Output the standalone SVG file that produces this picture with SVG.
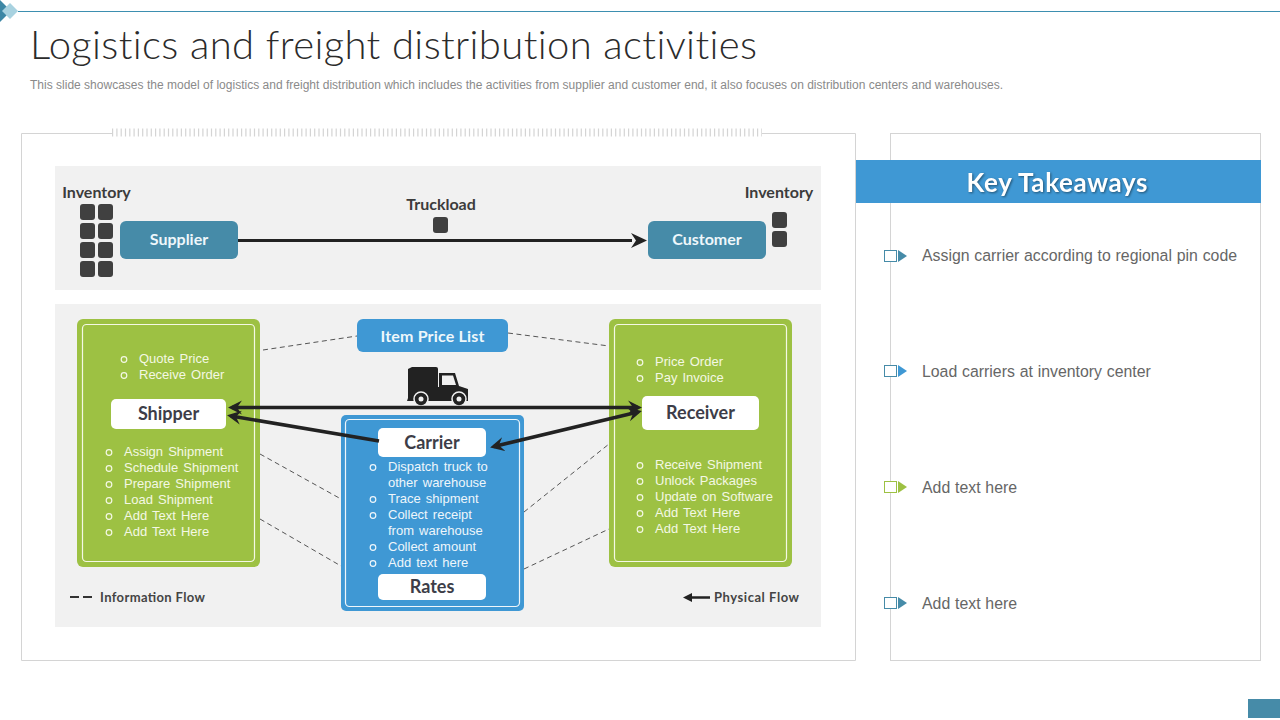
<svg xmlns="http://www.w3.org/2000/svg" width="1280" height="720" viewBox="0 0 1280 720">
<style>
.b{font-family:"Liberation Sans",Arial,sans-serif;font-size:13px;fill:#f4f8e4;word-spacing:1.5px}
.bb{fill:#eef6fb}
.o{fill:none;stroke:#f4f8e4;stroke-width:1.2}
.oo{stroke:#eef6fb}
.h{font-family:"Lato","Open Sans",sans-serif;font-weight:700}
.k{font-size:16px;fill:#3c3c3c;text-anchor:middle}
.w{font-size:16px;fill:#eef7fb;text-anchor:middle}
.n{font-size:18px;fill:#3d3d48;text-anchor:middle}
.t{font-family:"Liberation Sans",Arial,sans-serif;font-size:15.850px;fill:#666;word-spacing:.4px}
.s{fill:#404040}
.d{fill:none;stroke:#555;stroke-width:1;stroke-dasharray:5 3.5}
.a{fill:none;stroke:#222;stroke-width:3.5}
.f{fill:#fff;stroke:none}
</style>
<defs>
<marker id="ah" markerUnits="userSpaceOnUse" markerWidth="16" markerHeight="16" refX="10" refY="8" orient="auto-start-reverse" viewBox="0 0 16 16"><path d="M14 8 L0 1 L5 8 L0 15Z" fill="#222"/></marker>
</defs>
<rect width="1280" height="720" fill="#fff"/>
<g id="header">
<line x1="18" y1="11.500" x2="1280" y2="11.500" stroke="#3d8fb0" stroke-width="1"/>
<path d="M0 0 L11 11 L0 22Z" fill="#3d87a5"/>
<path d="M10 3 L18 11 L10 19 L2 11Z" fill="#a8d2e0"/>
<text x="30" y="59" font-family="Lato,'Open Sans',sans-serif" font-weight="300" font-size="40" fill="#2b2b2b" textLength="727" lengthAdjust="spacing" style="font-variant-ligatures:none">Logistics and freight distribution activities</text>
<text x="30" y="89" font-family="'Liberation Sans',Arial,sans-serif" font-size="12" fill="#8a8a8a" textLength="973" lengthAdjust="spacing">This slide showcases the model of logistics and freight distribution which includes the activities from supplier and customer end, it also focuses on distribution centers and warehouses.</text>
</g>
<g id="frames" fill="none" stroke="#d4d4d4" stroke-width="1">
<path d="M112 133.500H21.500V660.500H855.500V133.500H762"/>
<line x1="112" y1="132.500" x2="762" y2="132.500" stroke-width="8" stroke-dasharray="1.200 3.100"/>
<rect x="890.500" y="133.500" width="370" height="527"/>
</g>
<rect x="55" y="166" width="766" height="124" fill="#f1f1f1"/>
<rect x="55" y="304" width="766" height="323" fill="#f1f1f1"/>
<g id="inventory-left" class="s">
<text class="h k" x="96.500" y="198">Inventory</text>
<rect x="80" y="204" width="15" height="16" rx="3"/><rect x="98" y="204" width="15" height="16" rx="3"/>
<rect x="80" y="223" width="15" height="16" rx="3"/><rect x="98" y="223" width="15" height="16" rx="3"/>
<rect x="80" y="242" width="15" height="16" rx="3"/><rect x="98" y="242" width="15" height="16" rx="3"/>
<rect x="80" y="261" width="15" height="16" rx="3"/><rect x="98" y="261" width="15" height="16" rx="3"/>
</g>
<g id="supplier"><rect x="120" y="221" width="118" height="38" rx="6" fill="#468ba8"/><text class="h w" x="179" y="245">Supplier</text></g>
<g id="truckload" class="s"><text class="h k" x="441" y="210">Truckload</text><rect x="433" y="217" width="15" height="16" rx="3"/></g>
<g id="customer"><rect x="648" y="221" width="118" height="38" rx="6" fill="#468ba8"/><text class="h w" x="707" y="245">Customer</text></g>
<g id="inventory-right" class="s">
<text class="h k" x="779" y="198">Inventory</text>
<rect x="772" y="212" width="15" height="16" rx="3"/><rect x="772" y="231" width="15" height="16" rx="3"/>
</g>
<g id="item-price-list"><rect x="357" y="319" width="151" height="33" rx="6" fill="#3f98d4"/><text class="h w" x="432.500" y="342" font-size="17" textLength="104">Item Price List</text></g>
<g id="truck">
<path d="M412 367H436Q438 367 438 369V387H408V369Z" fill="#222"/>
<path d="M408 387V398L407 401H468V389L459 386L455 373H439V387Z" fill="#222"/>
<path d="M442 375.500H453L456 385H442Z" fill="#f1f1f1"/>
<circle cx="421" cy="399" r="7" fill="#222" stroke="#f1f1f1" stroke-width="1.500"/><circle cx="421" cy="399" r="2.500" fill="#f1f1f1"/>
<circle cx="459" cy="399" r="7" fill="#222" stroke="#f1f1f1" stroke-width="1.500"/><circle cx="459" cy="399" r="2.500" fill="#f1f1f1"/>
</g>
<g id="shipper">
<rect x="77" y="319" width="183" height="248" rx="6" fill="#9dc143"/>
<rect x="82.500" y="324.500" width="172" height="237" rx="4" fill="none" stroke="#f4f8e4" stroke-width="1.200"/>
<circle class="o" cx="124" cy="359.500" r="2.800"/><text class="b" x="139" y="363">Quote Price</text>
<circle class="o" cx="124" cy="375.500" r="2.800"/><text class="b" x="139" y="379">Receive Order</text>
<rect x="111" y="399" width="115" height="30" rx="5" class="f"/>
<text class="h n" x="168.500" y="420">Shipper</text>
<circle class="o" cx="109" cy="452.500" r="2.800"/><text class="b" x="124" y="456">Assign Shipment</text>
<circle class="o" cx="109" cy="468.500" r="2.800"/><text class="b" x="124" y="472">Schedule Shipment</text>
<circle class="o" cx="109" cy="484.500" r="2.800"/><text class="b" x="124" y="488">Prepare Shipment</text>
<circle class="o" cx="109" cy="500.500" r="2.800"/><text class="b" x="124" y="504">Load Shipment</text>
<circle class="o" cx="109" cy="516.500" r="2.800"/><text class="b" x="124" y="520">Add Text Here</text>
<circle class="o" cx="109" cy="532.500" r="2.800"/><text class="b" x="124" y="536">Add Text Here</text>
</g>
<g id="receiver">
<rect x="609" y="319" width="183" height="248" rx="6" fill="#9dc143"/>
<rect x="614.500" y="324.500" width="172" height="237" rx="4" fill="none" stroke="#f4f8e4" stroke-width="1.200"/>
<circle class="o" cx="640" cy="362.500" r="2.800"/><text class="b" x="655" y="366">Price Order</text>
<circle class="o" cx="640" cy="378.500" r="2.800"/><text class="b" x="655" y="382">Pay Invoice</text>
<rect x="642" y="396" width="117" height="34" rx="5" class="f"/>
<text class="h n" x="700.500" y="419">Receiver</text>
<circle class="o" cx="640" cy="465.500" r="2.800"/><text class="b" x="655" y="469">Receive Shipment</text>
<circle class="o" cx="640" cy="481.500" r="2.800"/><text class="b" x="655" y="485">Unlock Packages</text>
<circle class="o" cx="640" cy="497.500" r="2.800"/><text class="b" x="655" y="501">Update on Software</text>
<circle class="o" cx="640" cy="513.500" r="2.800"/><text class="b" x="655" y="517">Add Text Here</text>
<circle class="o" cx="640" cy="529.500" r="2.800"/><text class="b" x="655" y="533">Add Text Here</text>
</g>
<g id="carrier">
<rect x="341" y="415" width="183" height="196" rx="5" fill="#3f98d4"/>
<rect x="345.500" y="419.500" width="174" height="187" rx="4" fill="none" stroke="#eef6fb" stroke-width="1.200"/>
<rect x="378" y="428" width="108" height="29" rx="5" class="f"/>
<text class="h n" x="432" y="449">Carrier</text>
<circle class="o oo" cx="373" cy="467.500" r="2.800"/><text class="b bb" x="388" y="471">Dispatch truck to</text><text class="b bb" x="388" y="487">other warehouse</text>
<circle class="o oo" cx="373" cy="499.500" r="2.800"/><text class="b bb" x="388" y="503">Trace shipment</text>
<circle class="o oo" cx="373" cy="515.500" r="2.800"/><text class="b bb" x="388" y="519">Collect receipt</text><text class="b bb" x="388" y="535">from warehouse</text>
<circle class="o oo" cx="373" cy="547.500" r="2.800"/><text class="b bb" x="388" y="551">Collect amount</text>
<circle class="o oo" cx="373" cy="563.500" r="2.800"/><text class="b bb" x="388" y="567">Add text here</text>
<rect x="378" y="574" width="108" height="26" rx="5" class="f"/>
<text class="h n" x="432" y="593">Rates</text>
</g>
<g id="connectors">
<line class="d" x1="263" y1="350" x2="357" y2="336"/>
<line class="d" x1="508" y1="333" x2="609" y2="346"/>
<line class="d" x1="260" y1="454" x2="341" y2="499"/>
<line class="d" x1="260" y1="519" x2="341" y2="566"/>
<line class="d" x1="524" y1="512" x2="609" y2="444"/>
<line class="d" x1="524" y1="569" x2="609" y2="529"/>
<line class="a" x1="238" y1="240.500" x2="632" y2="240.500" style="stroke-width:3"/>
<path d="M647 240.500 L631 233 L636 240.500 L631 248Z" fill="#222"/>
<line class="a" x1="232" y1="407.500" x2="638" y2="407.500" marker-start="url(#ah)" marker-end="url(#ah)"/>
<line class="a" x1="231" y1="416" x2="379" y2="441" marker-start="url(#ah)"/>
<line class="a" x1="494" y1="446.500" x2="638" y2="412" marker-start="url(#ah)" marker-end="url(#ah)"/>
</g>
<g id="legend">
<line x1="70" y1="597" x2="92" y2="597" stroke="#333" stroke-width="2" stroke-dasharray="9 4"/>
<text class="h" x="100" y="602" font-size="13" fill="#444" textLength="105">Information Flow</text>
<line x1="690" y1="597.500" x2="710" y2="597.500" stroke="#222" stroke-width="2.500"/>
<path d="M683 597.500L692 593V602Z" fill="#222"/>
<text class="h" x="714" y="602" font-size="13" fill="#444" textLength="85">Physical Flow</text>
</g>
<g id="key-takeaways">
<rect x="856" y="160" width="405" height="43" fill="#3f98d4"/>
<text class="h" x="1057" y="192" font-size="26" fill="#fff" text-anchor="middle" textLength="181" style="filter:drop-shadow(1px 1px 1px rgba(0,0,0,.45))">Key Takeaways</text>
</g>
<g id="takeaway-1"><rect x="884.500" y="250.500" width="12" height="11" fill="#fff" stroke="#468ba8"/><path d="M898 250L907 256L898 262Z" fill="#468ba8"/><text class="t" x="922" y="261">Assign carrier according to regional pin code</text></g>
<g id="takeaway-2"><rect x="884.500" y="365.500" width="12" height="11" fill="#fff" stroke="#468ba8"/><path d="M898 365L907 371L898 377Z" fill="#3f98d4"/><text class="t" x="922" y="377">Load carriers at inventory center</text></g>
<g id="takeaway-3"><rect x="884.500" y="481.500" width="12" height="11" fill="#fff" stroke="#9dc143"/><path d="M898 481L907 487L898 493Z" fill="#9dc143"/><text class="t" x="922" y="493">Add text here</text></g>
<g id="takeaway-4"><rect x="884.500" y="597.500" width="12" height="11" fill="#fff" stroke="#468ba8"/><path d="M898 597L907 603L898 609Z" fill="#468ba8"/><text class="t" x="922" y="609">Add text here</text></g>
<rect id="page-tab" x="1248" y="699" width="32" height="19" fill="#468ba8"/>
</svg>
